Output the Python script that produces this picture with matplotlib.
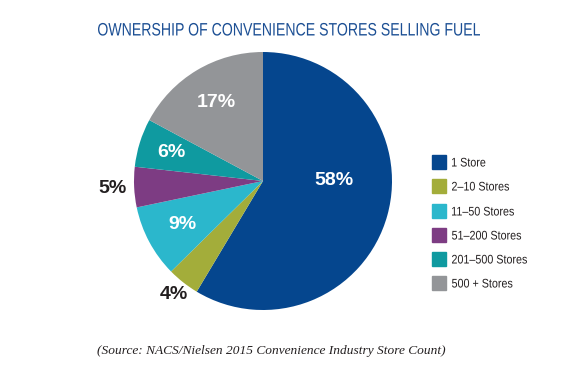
import numpy as np
import matplotlib.pyplot as plt
from matplotlib.patches import Rectangle, PathPatch
from matplotlib.textpath import TextPath
from matplotlib.font_manager import FontProperties
from matplotlib.transforms import Affine2D

categories = ['1 Store', '2\u201310 Stores', '11\u201350 Stores', '51\u2013200 Stores',
              '201\u2013500 Stores', '500 + Stores']
shares = [58, 4, 9, 5, 6, 17]
pct_labels = ['58%', '4%', '9%', '5%', '6%', '17%']

colors = ['#05468e', '#a3ad3a', '#2bb7cc', '#7d3c83', '#0f9aa0', '#939598']
label_r = [0.55, 1.12, 0.71, 1.17, 0.74, 0.71]
label_c = ['white', '#231f20', 'white', '#231f20', 'white', 'white']

W, H = 581, 379
fig = plt.figure(figsize=(W / 100, H / 100), dpi=100)
px = Affine2D().scale(1 / W, 1 / H) + fig.transFigure


def narrow_text(s, x, y, size_px, width_px=None, sx=1.0, color='k', ha='left'):
    # draws text squeezed horizontally, (x, y) in pixels from top-left, y = vertical center
    tp = TextPath((0, 0), s, size=size_px, prop=FontProperties(family='Liberation Sans'))
    ext = tp.get_extents()
    if width_px is not None:
        sx = width_px / ext.width
    w = ext.width * sx
    x0 = x - ext.x0 * sx - (w / 2 if ha == 'center' else 0)
    cap = size_px * 0.72
    tr = Affine2D().scale(sx, 1).translate(x0, H - y - cap / 2) + px
    fig.patches.append(PathPatch(tp, transform=tr, color=color, lw=0, figure=fig))


# pie axes: center (263,181), radius 129 px
cx, cy, r = 263, 181, 129
ax = fig.add_axes([(cx - r) / W, (H - cy - r) / H, 2 * r / W, 2 * r / H])
wedges, _ = ax.pie(shares, colors=colors, startangle=90, counterclock=False,
                   radius=1, wedgeprops=dict(linewidth=0))
ax.set_xlim(-1, 1)
ax.set_ylim(-1, 1)
ax.axis('off')

for w, lab, rr, c in zip(wedges, pct_labels, label_r, label_c):
    ang = np.deg2rad((w.theta1 + w.theta2) / 2)
    if lab == '58%':
        ang = 0.0
    ax.text(rr * np.cos(ang), rr * np.sin(ang), lab, color=c, fontsize=14,
            fontweight='bold', ha='center', va='center', family='Liberation Sans')

narrow_text('OWNERSHIP OF CONVENIENCE STORES SELLING FUEL', 98, 29, 18,
            width_px=382, color='#1c4f94')

# legend
ys = [162, 186, 211, 235, 259, 283]
for name, col, y in zip(categories, colors, ys):
    fig.patches.append(Rectangle((432 / W, 1 - (y + 7) / H), 14 / W, 14 / H,
                                 color=col, transform=fig.transFigure, figure=fig))
    narrow_text(name, 452, y, 12.5, sx=0.86, color='#231f20')

fig.text(97 / W, 1 - 351 / H,
         '(Source: NACS/Nielsen 2015 Convenience Industry Store Count)',
         fontsize=9.6, style='italic', color='#231f20', ha='left', va='center',
         family='Liberation Serif')

fig.savefig('out.png', dpi=100, facecolor='white')
